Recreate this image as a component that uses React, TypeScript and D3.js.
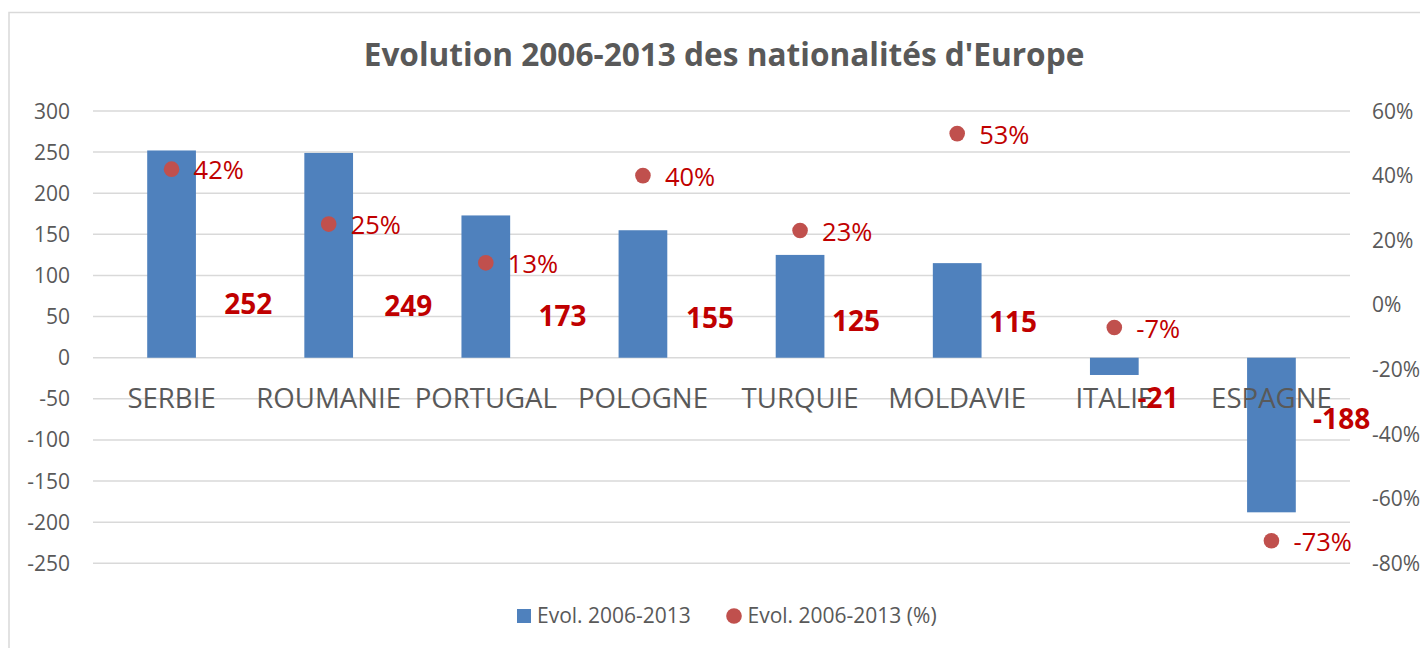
import React from "react";
import * as d3 from "d3";

const categories = ["SERBIE", "ROUMANIE", "PORTUGAL", "POLOGNE", "TURQUIE", "MOLDAVIE", "ITALIE", "ESPAGNE"];
const evolValues = [252, 249, 173, 155, 125, 115, -21, -188];
const evolPercent = [0.42, 0.25, 0.13, 0.40, 0.23, 0.53, -0.07, -0.73];
const leftTicks = [300, 250, 200, 150, 100, 50, 0, -50, -100, -150, -200, -250];
const rightTicks = [0.6, 0.4, 0.2, 0, -0.2, -0.4, -0.6, -0.8];
const titleText = "Evolution 2006-2013 des nationalités d'Europe";
const legendLabels = ["Evol. 2006-2013", "Evol. 2006-2013 (%)"];
// manual label nudges (dx from band centre, dy of baseline from zero line), as moved in the original
const valueLabelNudge: [number, number][] = [
  [76.7, -43.7], [79.6, -42], [76.7, -31.3], [67.1, -29.7],
  [56, -27], [55.9, -25.3], [43.8, 50.3], [70.2, 71],
];

const FONT = "'Open Sans', sans-serif";
const GRAY = "#595959";
const BAR = "#4F81BD";
const DOT = "#C0504D";
const RED = "#C00000";
const GRID = "#d9d9d9";

const pctFmt = (v: number) => d3.format(".0%")(v).replace("\u2212", "-");

export default function App() {
  const W = 1420, H = 648;
  const x0 = 93, x1 = 1350, yTop = 111, yBot = 563.3;
  const x = d3.scaleBand<string>().domain(categories).range([x0, x1]).paddingInner(0.69).paddingOuter(0.345);
  const yL = d3.scaleLinear().domain([-250, 300]).range([yBot, yTop]);
  const yR = d3.scaleLinear().domain([-0.8, 0.6]).range([yBot, yTop]);
  const bw = x.bandwidth();
  const zero = yL(0);

  return (
    <svg width={W} height={H} style={{ display: "block", position: "absolute", left: 0, top: 0 }} fontFamily={FONT}>
      <rect x={0} y={0} width={W} height={H} fill="#fff" />
      <rect x={9} y={12.5} width={1440} height={680} fill="none" stroke={GRID} strokeWidth={1.5} />
      <text x={724} y={66} textAnchor="middle" fontSize={31.6} fontWeight={700} fill={GRAY}>{titleText}</text>

      {leftTicks.map((t) => (
        <g key={"g" + t}>
          <line x1={x0} x2={x1} y1={yL(t)} y2={yL(t)} stroke={GRID} strokeWidth={1.5} />
          <text x={70} y={yL(t) + 7.5} textAnchor="end" fontSize={21} fill={GRAY}>{String(t)}</text>
        </g>
      ))}
      {rightTicks.map((t) => (
        <text key={"r" + t} x={1372} y={yR(t) + 7.5} textAnchor="start" fontSize={21} fill={GRAY}>{pctFmt(t)}</text>
      ))}

      {categories.map((c, i) => {
        const v = evolValues[i];
        return (
          <rect key={"b" + c} x={x(c)!} y={Math.min(yL(v), zero)} width={bw} height={Math.abs(yL(v) - zero)} fill={BAR} />
        );
      })}

      {categories.map((c) => (
        <text key={"c" + c} x={x(c)! + bw / 2} y={zero + 50.3} textAnchor="middle" fontSize={27.6} fill={GRAY}>{c}</text>
      ))}

      {categories.map((c, i) => {
        const cx = x(c)! + bw / 2;
        const cy = yR(evolPercent[i]);
        return (
          <g key={"p" + c}>
            <circle cx={cx} cy={cy} r={7.8} fill={DOT} />
            <text x={cx + 22} y={cy + 10.3} fontSize={25.5} fill={RED}>{pctFmt(evolPercent[i])}</text>
          </g>
        );
      })}

      {categories.map((c, i) => (
        <text key={"v" + c} x={x(c)! + bw / 2 + valueLabelNudge[i][0]} y={zero + valueLabelNudge[i][1]} textAnchor="middle" fontSize={28} fontWeight={700} fill={RED}>{String(evolValues[i])}</text>
      ))}

      <rect x={517} y={609} width={14} height={14} fill={BAR} />
      <text x={537} y={623.3} fontSize={21} fill={GRAY}>{legendLabels[0]}</text>
      <circle cx={734} cy={616} r={7.8} fill={DOT} />
      <text x={747.5} y={623.3} fontSize={21} fill={GRAY}>{legendLabels[1]}</text>
    </svg>
  );
}
